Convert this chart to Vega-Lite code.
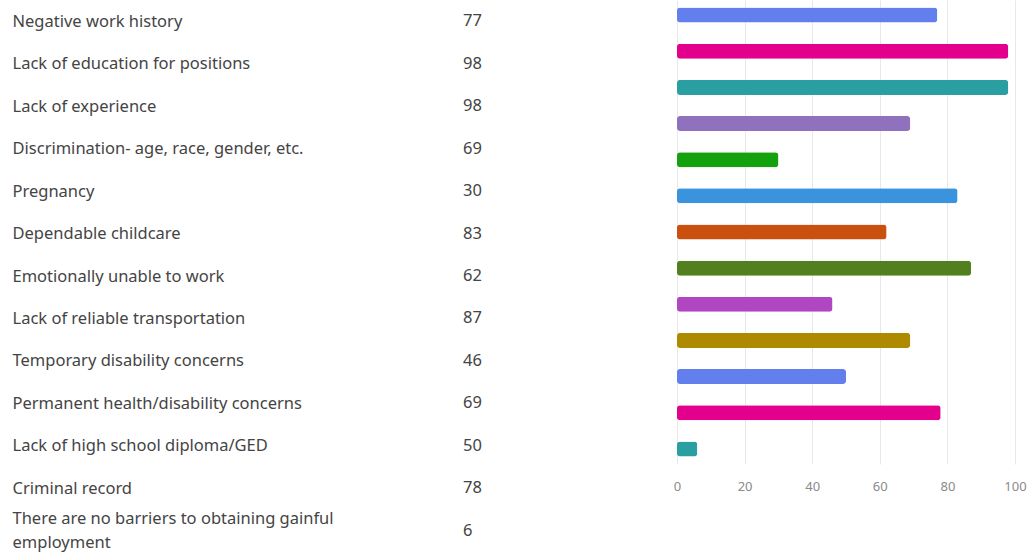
{
  "$schema": "https://vega.github.io/schema/vega-lite/v6.json",
  "padding": {"left": 12, "top": 0, "right": 0, "bottom": 0},
  "background": "white",
  "config": {"view": {"stroke": null}, "font": "Noto Sans"},
  "data": {"values": [
    {"label": "Negative work history", "count": 77},
    {"label": "Lack of education for positions", "count": 98},
    {"label": "Lack of experience", "count": 98},
    {"label": "Discrimination- age, race, gender, etc.", "count": 69},
    {"label": "Pregnancy", "count": 30},
    {"label": "Dependable childcare", "count": 83},
    {"label": "Emotionally unable to work", "count": 62},
    {"label": "Lack of reliable transportation", "count": 87},
    {"label": "Temporary disability concerns", "count": 46},
    {"label": "Permanent health/disability concerns", "count": 69},
    {"label": "Lack of high school diploma/GED", "count": 50},
    {"label": "Criminal record", "count": 78},
    {"label": "There are no barriers to obtaining gainful employment", "count": 6}
  ]},
  "hconcat": [
    {
      "width": 40,
      "height": 552,
      "mark": {"type": "text", "align": "left", "baseline": "middle", "font": "Noto Sans", "fontSize": 16.5, "color": "#444444"},
      "encoding": {
        "y": {
          "field": "label", "type": "nominal", "sort": null,
          "scale": {"paddingInner": 0, "paddingOuter": 0},
          "axis": {
            "orient": "left", "title": null, "domain": false, "ticks": false, "tickSize": 0,
            "labelAlign": "left", "labelPadding": 431, "labelLimit": 0,
            "labelFont": "Noto Sans", "labelFontSize": 16.5, "labelColor": "#444444",
            "labelLineHeight": 24,
            "labelBaseline": {"condition": {"test": "datum.value == 'There are no barriers to obtaining gainful employment'", "value": "line-bottom"}, "value": "middle"},
            "labelExpr": "datum.value == 'There are no barriers to obtaining gainful employment' ? ['There are no barriers to obtaining gainful', 'employment'] : datum.value"
          }
        },
        "text": {"field": "count", "type": "quantitative"}
      }
    },
    {
      "width": 338,
      "height": 464,
      "mark": {"type": "bar", "cornerRadius": 3},
      "encoding": {
        "y": {
          "field": "label", "type": "nominal", "sort": null,
          "scale": {"paddingInner": 0.585, "paddingOuter": 0.21},
          "axis": null
        },
        "x": {
          "field": "count", "type": "quantitative",
          "scale": {"domain": [0, 100], "nice": false},
          "axis": {
            "title": null, "domain": false, "ticks": false, "grid": true,
            "gridColor": "#e8e8e8", "values": [0, 20, 40, 60, 80, 100],
            "labelFlush": false,
            "labelPadding": 16, "labelFont": "Noto Sans", "labelFontSize": 13,
            "labelColor": "#8a8a8a"
          }
        },
        "color": {
          "field": "label", "type": "nominal", "sort": null, "legend": null,
          "scale": {
            "domain": [
              "Negative work history",
              "Lack of education for positions",
              "Lack of experience",
              "Discrimination- age, race, gender, etc.",
              "Pregnancy",
              "Dependable childcare",
              "Emotionally unable to work",
              "Lack of reliable transportation",
              "Temporary disability concerns",
              "Permanent health/disability concerns",
              "Lack of high school diploma/GED",
              "Criminal record",
              "There are no barriers to obtaining gainful employment"
            ],
            "range": ["#637EED", "#E3008C", "#2A9FA2", "#9071BD", "#13A10E", "#3A94DD", "#CA5010", "#52801F", "#B146C2", "#AE8A00", "#637EED", "#E3008C", "#2A9FA2"]
          }
        }
      }
    }
  ],
  "spacing": 190
}
